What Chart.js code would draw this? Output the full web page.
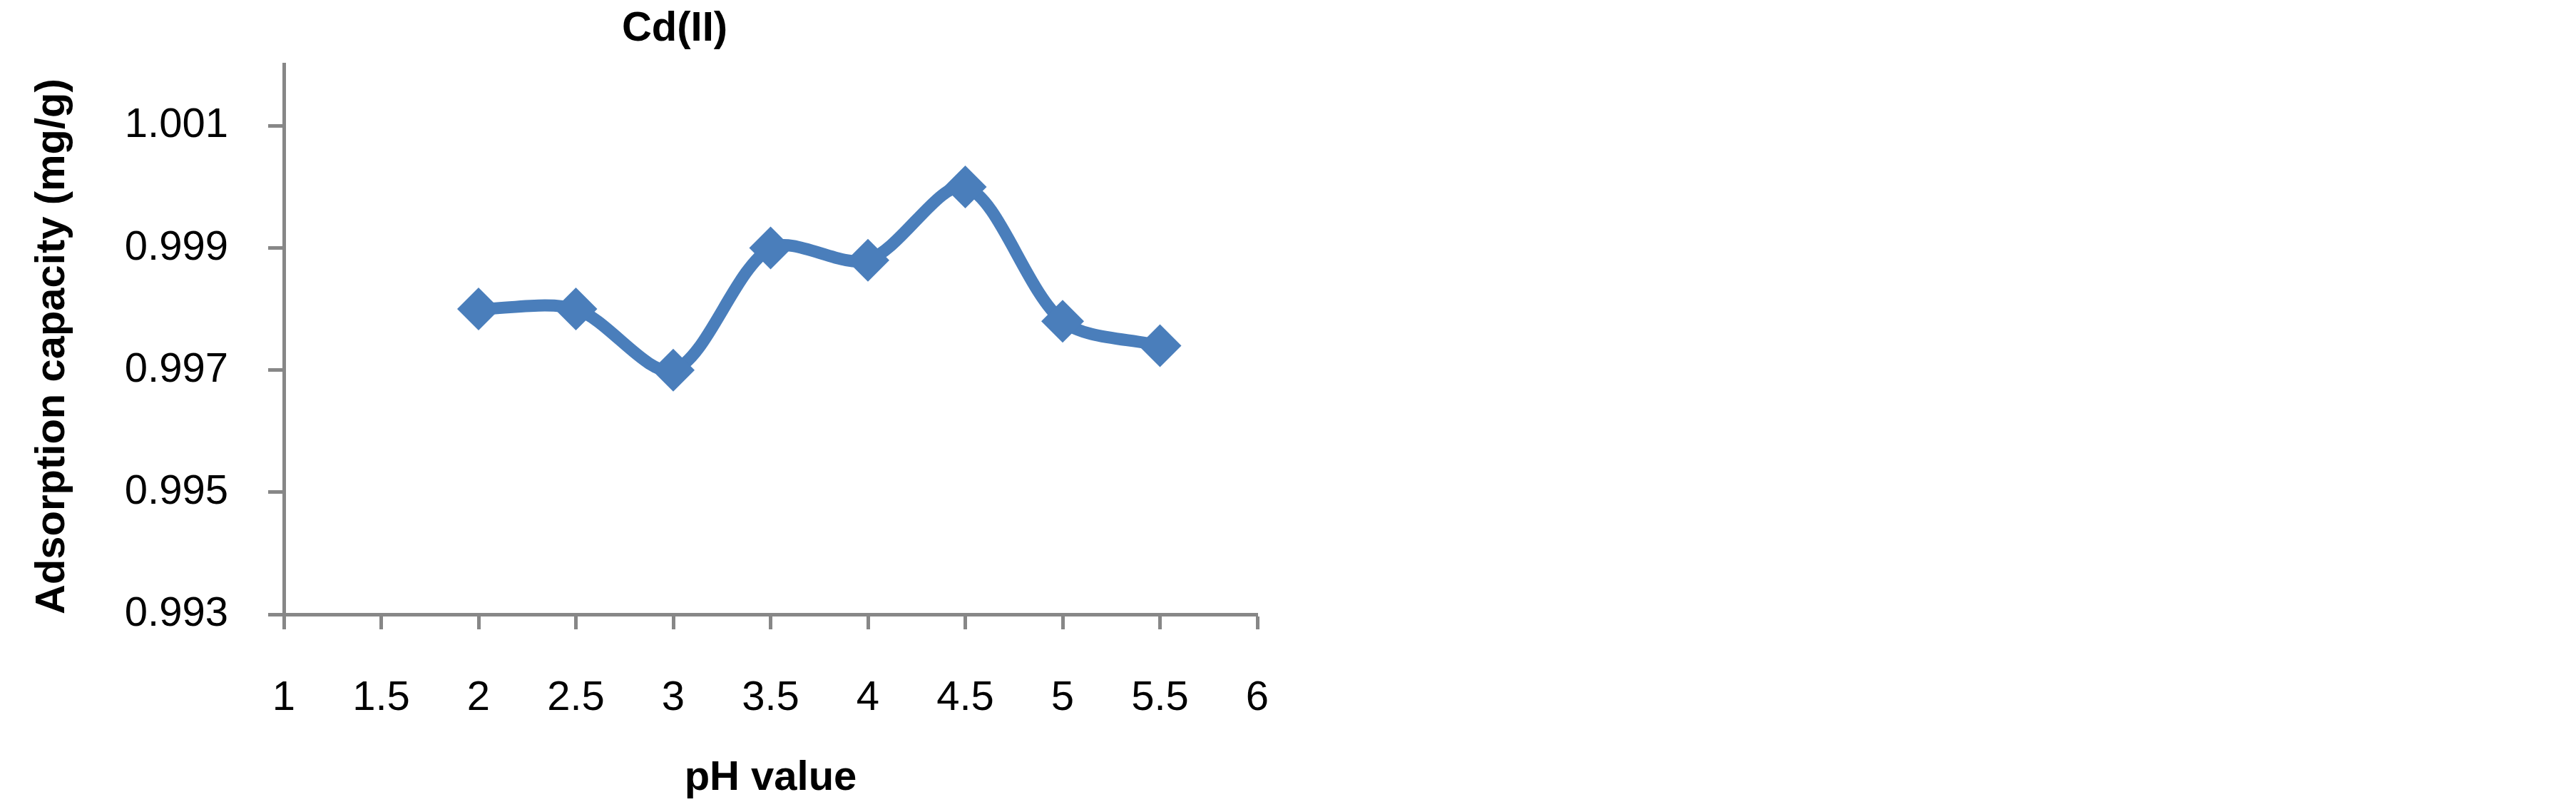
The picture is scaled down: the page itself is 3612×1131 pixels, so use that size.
<!DOCTYPE html>
<html>
<head>
<meta charset="utf-8">
<script src="https://cdn.jsdelivr.net/npm/chart.js@4.4.1/dist/chart.umd.min.js"></script>
<style>
  html, body { margin: 0; padding: 0; background: #ffffff; width: 3612px; height: 1131px; overflow: hidden; }
  #wrap { position: absolute; left: 0; top: 0; width: 1892px; height: 1131px; }
</style>
</head>
<body>
<div id="wrap"><canvas id="c"></canvas></div>
<script>
// ---- data ----
const phValues = [2, 2.5, 3, 3.5, 4, 4.5, 5, 5.5];
const capacity = [0.998, 0.998, 0.997, 0.999, 0.9988, 1.000, 0.9978, 0.9974];
const xTickValues = [1, 1.5, 2, 2.5, 3, 3.5, 4, 4.5, 5, 5.5, 6];
const xTickLabels = ['1', '1.5', '2', '2.5', '3', '3.5', '4', '4.5', '5', '5.5', '6'];
const yTickValues = [0.993, 0.995, 0.997, 0.999, 1.001];
const yTickLabels = ['0.993', '0.995', '0.997', '0.999', '1.001'];
const chartTitle = 'Cd(II)';
const xTitle = 'pH value';
const yTitle = 'Adsorption capacity (mg/g)';

const AXIS = '#878787';
const BLUE = '#4a7ebb';
const FONT = "'Liberation Sans', Arial, sans-serif";

const points = phValues.map((x, i) => ({ x: x, y: capacity[i] }));

new Chart(document.getElementById('c'), {
  type: 'line',
  data: {
    datasets: [{
      data: points,
      borderColor: BLUE,
      backgroundColor: BLUE,
      borderWidth: 17,
      borderJoinStyle: 'round',
      borderCapStyle: 'round',
      tension: 0.3,
      fill: false,
      pointStyle: 'rectRot',
      pointRadius: 30,
      pointHoverRadius: 30,
      pointBackgroundColor: BLUE,
      pointBorderColor: BLUE,
      pointBorderWidth: 0
    }]
  },
  options: {
    responsive: true,
    maintainAspectRatio: false,
    animation: false,
    events: [],
    layout: { padding: { left: 0, right: 0, top: 0, bottom: 0 } },
    plugins: {
      legend: { display: false },
      tooltip: { enabled: false },
      title: {
        display: true,
        text: chartTitle,
        color: '#000000',
        font: { family: FONT, size: 58, weight: 'bold', lineHeight: 1.2 },
        padding: { top: 2, bottom: 15 }
      }
    },
    scales: {
      x: {
        type: 'linear',
        min: 1,
        max: 6,
        afterBuildTicks: (scale) => { scale.ticks = xTickValues.map(v => ({ value: v })); },
        afterFit: (scale) => { scale.height = 270; scale.paddingRight = 129; },
        ticks: {
          autoSkip: false,
          maxRotation: 0,
          color: '#000000',
          padding: 62,
          font: { family: FONT, size: 58, lineHeight: 1.2 },
          callback: (v) => { const i = xTickValues.indexOf(v); return i >= 0 ? xTickLabels[i] : ''; }
        },
        grid: {
          display: true,
          drawOnChartArea: false,
          drawTicks: true,
          tickLength: 21,
          tickWidth: 5,
          tickColor: AXIS
        },
        border: { display: true, color: AXIS, width: 5 },
        title: {
          display: true,
          text: xTitle,
          color: '#000000',
          font: { family: FONT, size: 58, weight: 'bold', lineHeight: 1.2 },
          padding: { top: 0, bottom: 5 }
        }
      },
      y: {
        type: 'linear',
        min: 0.993,
        max: 1.002,
        afterBuildTicks: (scale) => { scale.ticks = yTickValues.map(v => ({ value: v })); },
        afterFit: (scale) => { scale.width = 398; },
        ticks: {
          autoSkip: false,
          color: '#000000',
          padding: 56,
          font: { family: FONT, size: 58, lineHeight: 1.2 },
          callback: (v) => {
            let best = -1, bd = 1e9;
            yTickValues.forEach((t, i) => { const d = Math.abs(t - v); if (d < bd) { bd = d; best = i; } });
            return bd < 1e-7 ? yTickLabels[best] : '';
          }
        },
        grid: {
          display: true,
          drawOnChartArea: false,
          drawTicks: true,
          tickLength: 22,
          tickWidth: 5,
          tickColor: AXIS
        },
        border: { display: true, color: AXIS, width: 5 },
        title: {
          display: true,
          text: yTitle,
          align: 'start',
          color: '#000000',
          font: { family: FONT, size: 58, weight: 'bold', lineHeight: 1.2 },
          padding: { top: 39, bottom: 0 }
        }
      }
    }
  }
});
</script>
</body>
</html>
